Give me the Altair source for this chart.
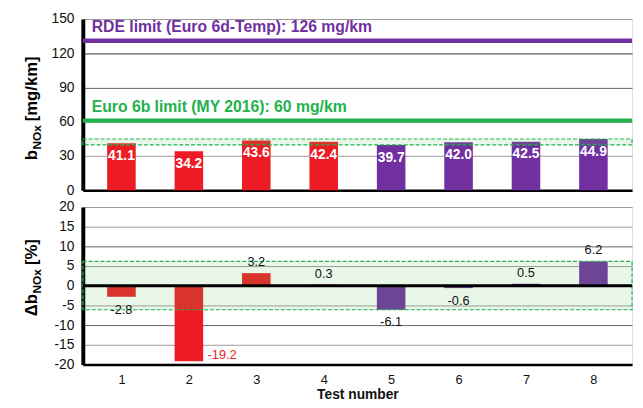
import altair as alt
import pandas as pd

# ---------------- data ----------------
tests = [1, 2, 3, 4, 5, 6, 7, 8]
bnox = [41.1, 34.2, 43.6, 42.4, 39.7, 42.0, 42.5, 44.9]
delta = [-2.8, -19.2, 3.2, 0.3, -6.1, -0.6, 0.5, 6.2]
groups = ["Series 1", "Series 1", "Series 1", "Series 1",
          "Series 2", "Series 2", "Series 2", "Series 2"]
limit_values = [131, 61]
limit_labels = ["RDE limit (Euro 6d-Temp): 126 mg/km",
                "Euro 6b limit (MY 2016): 60 mg/km"]
y_ticks_top = [0, 30, 60, 90, 120, 150]
y_ticks_bottom = [-20, -15, -10, -5, 0, 5, 10, 15, 20]

# ---------------- style ----------------
RED = "#ED1C24"
PURPLE = "#7030A0"
GREEN = "#22B14C"
limit_colors = [PURPLE, GREEN]
FONT = "Liberation Sans"
W, H1, H2 = 558, 174, 160
HYPHEN = "replace(datum.label, '\u2212', '-')"

df = pd.DataFrame({"test": tests, "bnox": bnox, "delta": delta, "group": groups})
core = df[df["delta"].abs() < 10]
band_top = pd.DataFrame({"lo": [core["bnox"].min()], "hi": [core["bnox"].max()]})
band_bot = pd.DataFrame({"lo": [core["delta"].min()], "hi": [core["delta"].max()]})
band_lo = float(core["delta"].min())
limits = pd.DataFrame({"value": limit_values, "label": limit_labels})

color = alt.Color("group:N", scale=alt.Scale(domain=["Series 1", "Series 2"], range=[RED, PURPLE]), legend=None)


def xt():
    return alt.X("test:Q", scale=alt.Scale(domain=[0.5, 8.5], nice=False),
                 axis=alt.Axis(values=tests, labels=False, ticks=False, grid=False, title=None,
                               domainColor="black", domainWidth=2.5))


def xb():
    return alt.X("test:Q", scale=alt.Scale(domain=[0.5, 8.5], nice=False),
                 axis=alt.Axis(values=tests, format="d", ticks=False, grid=False,
                               labelFontSize=13, labelPadding=9, labelColor="#111",
                               title="Test number", titleFontSize=14, titleFontWeight="bold",
                               titlePadding=2, titleColor="#111",
                               domainColor="black", domainWidth=2.5))


def yaxis(vals, dark, mid):
    return alt.Axis(values=vals, title=None, ticks=False, labelFontSize=14, labelPadding=9,
                    labelColor="#111", domainColor="black", domainWidth=4,
                    labelExpr=HYPHEN,
                    gridColor={"condition": [{"test": dark, "value": "#333"},
                                             {"test": mid, "value": "#666"}],
                               "value": "#999"},
                    gridWidth=1)


def yt(field):
    return alt.Y(field, scale=alt.Scale(domain=[0, 150], nice=False),
                 axis=yaxis(y_ticks_top, "datum.value == 120", "datum.value == 90"))


def yb(field):
    return alt.Y(field, scale=alt.Scale(domain=[-20, 20], nice=False),
                 axis=yaxis(y_ticks_bottom, "datum.value == 999", "abs(datum.value) == 10"))


def vtext(s, size, x, y):
    return alt.Chart(pd.DataFrame({"t": [s]})).mark_text(
        angle=270, align="left", baseline="alphabetic", fontSize=size,
        fontWeight="bold", color="black", font=FONT
    ).encode(text="t:N", x=alt.value(x), y=alt.value(y))


# ---------------- top panel ----------------
base_top = alt.Chart(df)
bars_top = base_top.mark_bar(size=29).encode(x=xt(), y=yt("bnox:Q"), color=color)
lab_top = base_top.mark_text(color="white", fontWeight="bold", fontSize=14, baseline="middle",
                             dy=13, font=FONT).encode(
    x=xt(), y=yt("bnox:Q"), text=alt.Text("bnox:Q", format=".1f"))
band1 = alt.Chart(band_top).mark_rect(fill="#5CC85C", fillOpacity=0.14, stroke=GREEN,
                                      strokeWidth=1.2, strokeDash=[4, 2]).encode(
    y=yt("lo:Q"), y2="hi:Q", x=alt.value(0), x2=alt.value(W))

limit_layers = []
for i in range(len(limit_values)):
    d = limits.iloc[[i]]
    limit_layers.append(alt.Chart(d).mark_rule(color=limit_colors[i], strokeWidth=4.5).encode(y=yt("value:Q")))
    limit_layers.append(alt.Chart(d).mark_text(color=limit_colors[i], align="left", baseline="middle",
                                               dy=-14, fontSize=16, fontWeight="bold", font=FONT).encode(
        y=yt("value:Q"), x=alt.value(9), text="label:N"))

title_top = [vtext("b", 17, -47, 143.5), vtext("NOx", 12, -42, 132.6), vtext("[mg/km]", 17, -47, 104)]

top = alt.layer(bars_top, lab_top, band1, *limit_layers, *title_top).properties(width=W, height=H1)

# ---------------- bottom panel ----------------
base_b = alt.Chart(df).transform_calculate(
    lbl="replace(format(datum.delta, '.1f'), '\u2212', '-')")
bars_b = base_b.mark_bar(size=29).encode(x=xb(), y=yb("delta:Q"), color=color)
band2 = alt.Chart(band_bot).mark_rect(fill="#5CC85C", fillOpacity=0.14, stroke=GREEN,
                                      strokeWidth=1.2, strokeDash=[4, 2]).encode(
    y=yb("lo:Q"), y2="hi:Q", x=alt.value(0), x2=alt.value(W))
zero = alt.Chart(pd.DataFrame({"z": [0]})).mark_rule(color="black", strokeWidth=3).encode(y=yb("z:Q"))
lab_pos = base_b.mark_text(fontSize=13, color="#111", baseline="middle", dy=-11, font=FONT).encode(
    x=xb(), y=yb("delta:Q"), text="lbl:N").transform_filter(alt.datum.delta >= 0)
lab_neg = base_b.mark_text(fontSize=13, color="#111", baseline="middle", dy=13, font=FONT).encode(
    x=xb(), y=yb("delta:Q"), text="lbl:N").transform_filter(
    (alt.datum.delta < 0) & (alt.datum.delta >= band_lo))
lab_out = base_b.mark_text(fontSize=13, color=RED, align="left", baseline="middle", dx=19, dy=-6,
                           font=FONT).encode(
    x=xb(), y=yb("delta:Q"), text="lbl:N").transform_filter(alt.datum.delta < band_lo)

title_b = [vtext("Δb", 17, -47, 111), vtext("NOx", 12, -42, 87.8), vtext("[%]", 17, -47, 59)]

bottom = alt.layer(bars_b, band2, zero, lab_pos, lab_neg, lab_out, *title_b).properties(width=W, height=H2)

chart = alt.vconcat(top, bottom, spacing=17, bounds="flush").properties(
    padding={"left": 14, "top": 0, "right": 0, "bottom": 0}
).configure_view(stroke="black", strokeWidth=1).configure(font=FONT)

chart.save("out.html", embed_options={"renderer": "svg", "actions": False})
